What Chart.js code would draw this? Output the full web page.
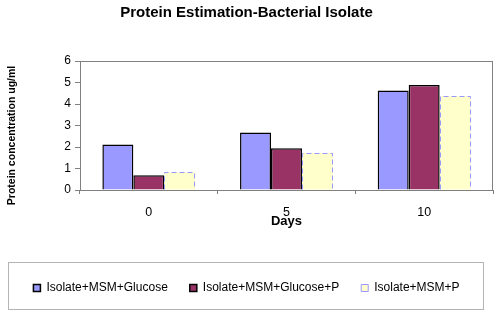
<!DOCTYPE html>
<html>
<head>
<meta charset="utf-8">
<script src="https://cdn.jsdelivr.net/npm/chart.js@4"></script>
<style>
  html, body { margin: 0; padding: 0; background: #fff; }
  #wrap { width: 500px; height: 318px; }
</style>
</head>
<body>
<div id="wrap"><canvas id="myChart" width="500" height="318"></canvas></div>
<script>
// ---- Data ----
const days        = ["0", "5", "10"];
const seriesNames = ["Isolate+MSM+Glucose", "Isolate+MSM+Glucose+P", "Isolate+MSM+P"];
const glucose     = [2.12, 2.68, 4.63];
const glucoseP    = [0.69, 1.94, 4.88];
const msmP        = [0.82, 1.72, 4.37];
const yTicks      = [0, 1, 2, 3, 4, 5, 6];
const yTitle      = "Protein concentration ug/ml";

const FONT = "Arial, 'Liberation Sans', sans-serif";

// ---- Dashed outline for the third series (bars have no borderDash) ----
const dashedBars = {
  id: "dashedBars",
  afterDatasetsDraw(chart) {
    const meta = chart.getDatasetMeta(2);
    const ctx = chart.ctx;
    ctx.save();
    ctx.strokeStyle = "#9999FF";
    ctx.lineWidth = 1;
    ctx.setLineDash([5, 3]);
    meta.data.forEach(bar => {
      const half = bar.width / 2;
      const l = Math.round(bar.x - half) + 0.5;
      const r = Math.round(bar.x + half) - 0.5;
      const t = Math.round(bar.y) + 0.5;
      const b = bar.base;
      ctx.beginPath();
      ctx.moveTo(l, b);
      ctx.lineTo(l, t);
      ctx.lineTo(r, t);
      ctx.lineTo(r, b);
      ctx.stroke();
    });
    ctx.restore();
  }
};

// ---- Plot frame, legend box, y title (sits a bit below the axis middle) ----
const frames = {
  id: "frames",
  afterDraw(chart) {
    const ctx = chart.ctx;
    const a = chart.chartArea;
    ctx.save();
    ctx.strokeStyle = "#808080";
    ctx.lineWidth = 1;
    ctx.strokeRect(Math.round(a.left) + 0.5, Math.round(a.top) + 0.5,
                   Math.round(a.right - a.left) - 1, Math.round(a.bottom - a.top));
    // legend frame
    ctx.strokeStyle = "#b4b4b4";
    ctx.strokeRect(8.5, 262.5, 475, 47);
    // y axis title
    ctx.translate(12, (a.top + a.bottom) / 2 + 10);
    ctx.rotate(-Math.PI / 2);
    ctx.fillStyle = "#000";
    ctx.font = "bold 10.5px " + FONT;
    ctx.textAlign = "center";
    ctx.textBaseline = "middle";
    ctx.fillText(yTitle, 0, 0);
    ctx.restore();
  }
};

const ctx = document.getElementById("myChart");
new Chart(ctx, {
  type: "bar",
  data: {
    labels: days,
    datasets: [
      { label: seriesNames[0], data: glucose,  backgroundColor: "#9999FF", borderColor: "#000", borderWidth: 1.5 },
      { label: seriesNames[1], data: glucoseP, backgroundColor: "#993366", borderColor: "#000", borderWidth: 1.5 },
      { label: seriesNames[2], data: msmP,     backgroundColor: "#FFFFCC", borderColor: "#9999FF", borderWidth: 0 }
    ]
  },
  options: {
    responsive: false,
    animation: false,
    devicePixelRatio: 1,
    categoryPercentage: 0.675,
    barPercentage: 1,
    layout: { padding: { left: 0, right: 7, top: 0, bottom: 14 } },
    plugins: {
      title: {
        display: true,
        text: "Protein Estimation-Bacterial Isolate",
        color: "#000",
        font: { family: FONT, size: 15, weight: "bold" },
        padding: { top: 4, bottom: 39 }
      },
      legend: {
        position: "bottom",
        labels: {
          color: "#000",
          font: { family: FONT, size: 12 },
          boxWidth: 7,
          boxHeight: 7,
          padding: 22,
          generateLabels(chart) {
            const items = Chart.defaults.plugins.legend.labels.generateLabels(chart);
            items[2].strokeStyle = "#9999FF";
            items[2].lineWidth = 1;
            return items;
          }
        }
      },
      tooltip: { enabled: false }
    },
    scales: {
      x: {
        afterFit(scale) { scale.height = 70; },
        grid: { display: true, drawOnChartArea: false, offset: true, color: "#808080", tickLength: 4 },
        border: { display: true, color: "#808080" },
        ticks: { color: "#000", font: { family: FONT, size: 12.5 }, padding: 11 },
        title: {
          display: true, text: "Days", color: "#000",
          font: { family: FONT, size: 13, weight: "bold" },
          padding: { top: 0, bottom: 31 }
        }
      },
      y: {
        min: yTicks[0],
        max: yTicks[yTicks.length - 1],
        afterFit(scale) { scale.width = 80; },
        afterBuildTicks(scale) { scale.ticks = yTicks.map(v => ({ value: v })); },
        grid: { display: true, drawOnChartArea: false, color: "#808080", tickLength: 5 },
        border: { display: true, color: "#808080" },
        ticks: { color: "#000", font: { family: FONT, size: 12 }, padding: 4 },
        title: { display: false }
      }
    }
  },
  plugins: [dashedBars, frames]
});
</script>
</body>
</html>
